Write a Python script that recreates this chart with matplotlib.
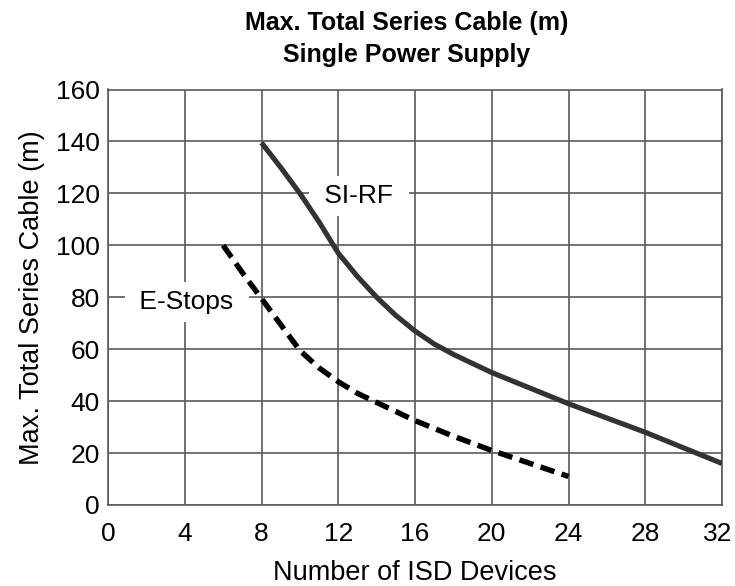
import matplotlib
matplotlib.use("Agg")
import matplotlib.pyplot as plt
from matplotlib.transforms import ScaledTranslation

plt.rcParams['font.family'] = ['Liberation Sans', 'DejaVu Sans']

si_rf_x = [8, 9, 10, 11, 12, 13, 14, 15, 16, 17, 18, 20, 24, 28, 32]
si_rf_y = [139.5, 130, 120, 109, 97, 88, 80, 73, 67, 62, 58, 51, 39, 28, 16]
estop_x = [6, 7, 8, 9, 10, 11, 12, 13, 14, 16, 18, 20, 22, 24]
estop_y = [100, 89.5, 79.5, 69.5, 59.5, 52.8, 47.5, 43, 39.5, 32.5, 26.5, 21, 16, 11]

xticks = list(range(0, 33, 4))
yticks = list(range(0, 161, 20))

fig = plt.figure(figsize=(7.35, 5.86), dpi=100)
ax = fig.add_axes([108/735, 81/586, 614/735, 415.5/586])

ax.plot(si_rf_x, si_rf_y, color='#333333', lw=3.7, solid_capstyle='butt',
        solid_joinstyle='round', zorder=3)
ax.plot(estop_x, estop_y, color='black', lw=3.9, dashes=(2.7, 1.4),
        dash_capstyle='butt', dash_joinstyle='round', zorder=3)

ax.set_xlim(0, 32)
ax.set_ylim(0, 160)
ax.set_xticks(xticks)
ax.set_yticks(yticks)
ax.grid(True, color='#5a5a5a', lw=1.2)
ax.set_axisbelow(True)
for s in ax.spines.values():
    s.set_color('#5a5a5a')
    s.set_linewidth(1.2)
ax.tick_params(length=0, labelsize=19)
ax.tick_params(axis='x', pad=12)
ax.tick_params(axis='y', pad=6)

# keep the last x tick label inside the canvas
last = ax.get_xticklabels()[-1]
last.set_transform(last.get_transform() + ScaledTranslation(-4/100, 0, fig.dpi_scale_trans))

bbox = dict(boxstyle='square,pad=0.3', facecolor='white', edgecolor='none')
ax.text(13.08, 119, '\u00a0SI-RF\u00a0', fontsize=19, ha='center', va='center', bbox=bbox, zorder=2)
ax.text(4.1, 78.2, '\u00a0E-Stops\u00a0', fontsize=19, ha='center', va='center', bbox=bbox, zorder=2)

ax.set_xlabel('Number of ISD Devices', fontsize=19.5, labelpad=10)
ax.set_ylabel('Max. Total Series Cable (m)', fontsize=19.5, labelpad=8)

fig.text(407/735, 1 - 30/586, 'Max. Total Series Cable (m)', fontsize=18,
         fontweight='bold', ha='center', va='baseline')
fig.text(407/735, 1 - 62/586, 'Single Power Supply', fontsize=18,
         fontweight='bold', ha='center', va='baseline')

fig.savefig('out.png', dpi=100)
